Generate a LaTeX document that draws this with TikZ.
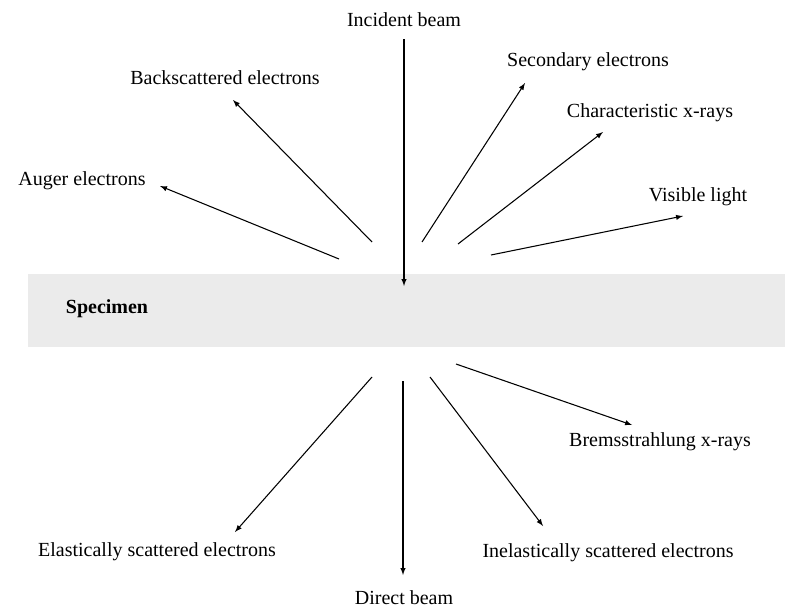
\documentclass[tikz,border=0pt]{standalone}
\usepackage{fontspec}
\setmainfont{Liberation Serif}
\usetikzlibrary{positioning}

\begin{document}
\begin{tikzpicture}[x=0.75pt, y=-0.75pt,
	every node/.style={font=\fontsize{15}{18}\selectfont, inner sep=0pt},
	signal/.style={-latex, line width=0.8pt}
]

\useasboundingbox (0,0) rectangle (791,610);

% Specimen
\node [fill=black!8,
	minimum width=757*0.75pt,
	minimum height=73*0.75pt,
	anchor=north west
] (specimen) at (28,274) {};
\node [font=\fontsize{15}{18}\selectfont\bfseries] (specimen_label) at (107,309) {Specimen};

% Labels above the specimen
\node (incident) at (404,20) {Incident beam};
\node (backscattered) at (225,78) {Backscattered electrons};
\node (secondary) at (588,62) {Secondary electrons};
\node (characteristic) at (650,113) {Characteristic x-rays};
\node (auger) at (82,181) {Auger electrons};
\node (visible) at (698,197) {Visible light};

% Labels below the specimen
\node (bremsstrahlung) at (660,442) {Bremsstrahlung x-rays};
\node (elastic) at (157,552) {Elastically scattered electrons};
\node (direct) at (404,598) {Direct beam};
\node (inelastic) at (608,553) {Inelastically scattered electrons};

% Arrow ends
\coordinate (backscattered_from) at (372,242);
\coordinate (backscattered_to) at (233,100);
\coordinate (secondary_from) at (422,242);
\coordinate (secondary_to) at (525,83);
\coordinate (characteristic_from) at (458,244);
\coordinate (characteristic_to) at (603,132);
\coordinate (auger_from) at (339,259);
\coordinate (auger_to) at (160,186);
\coordinate (visible_from) at (491,255);
\coordinate (visible_to) at (683,216);
\coordinate (bremsstrahlung_from) at (456,364);
\coordinate (bremsstrahlung_to) at (632,425);
\coordinate (elastic_from) at (372,377);
\coordinate (elastic_to) at (235,532);
\coordinate (direct_from) at (403,381);
\coordinate (direct_to) at (403,575);
\coordinate (inelastic_from) at (430,377);
\coordinate (inelastic_to) at (543,526);

% Arrows
\draw[signal] ([yshift=-9pt] incident.south) -- ([yshift=-9pt] incident.south |- specimen.north);
\draw[signal] (backscattered_from) -- (backscattered_to);
\draw[signal] (secondary_from) -- (secondary_to);
\draw[signal] (characteristic_from) -- (characteristic_to);
\draw[signal] (auger_from) -- (auger_to);
\draw[signal] (visible_from) -- (visible_to);
\draw[signal] (bremsstrahlung_from) -- (bremsstrahlung_to);
\draw[signal] (elastic_from) -- (elastic_to);
\draw[signal] (direct_from) -- (direct_to);
\draw[signal] (inelastic_from) -- (inelastic_to);

\end{tikzpicture}
\end{document}
